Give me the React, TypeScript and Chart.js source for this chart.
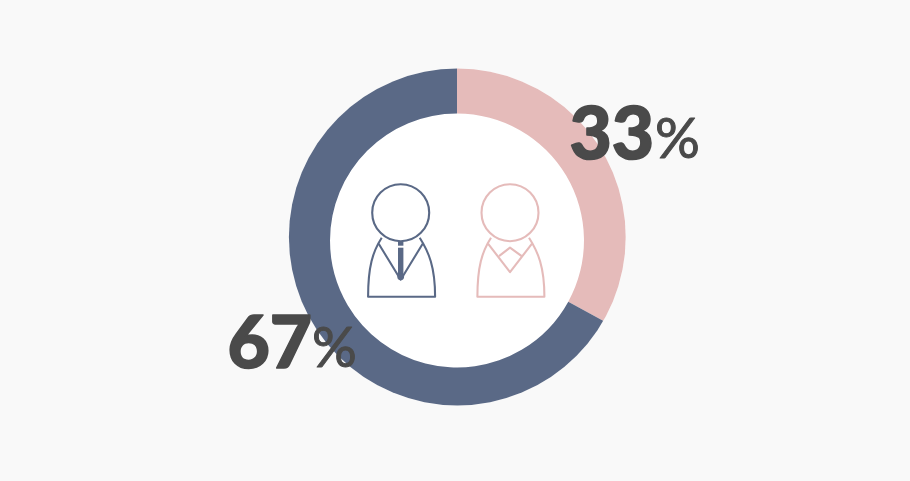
import React, { useEffect, useRef } from "react";
import { Chart, registerables } from "chart.js";

Chart.register(...registerables);

const categories = ["Women", "Men"];
const shares = [33, 67];
const sliceColors = ["#e5bbba", "#5a6986"];
const percentSign = "%";

const BG = "#f9f9f9";
const TEXT = "#4a4a4a";
const FONT = "Lato";

function drawPerson(ctx: CanvasRenderingContext2D, x: number, color: string, kind: "tie" | "collar") {
  const y = 212.7;
  ctx.save();
  ctx.strokeStyle = color;
  ctx.fillStyle = color;
  ctx.lineWidth = 2.1;
  ctx.lineJoin = "round";
  ctx.beginPath();
  ctx.arc(x, y, 28.5, 0, Math.PI * 2);
  ctx.stroke();
  ctx.beginPath();
  ctx.moveTo(x - 19, y + 25);
  ctx.bezierCurveTo(x - 28, y + 39, x - 32.6, y + 54, x - 32.6, y + 84);
  ctx.lineTo(x + 34.4, y + 84);
  ctx.bezierCurveTo(x + 34.4, y + 54, x + 28, y + 39, x + 19, y + 25);
  ctx.stroke();
  ctx.beginPath();
  ctx.moveTo(x - 22, y + 31);
  ctx.lineTo(x, y + (kind === "tie" ? 67 : 59.5));
  ctx.lineTo(x + 22, y + 31);
  ctx.stroke();
  if (kind === "tie") {
    ctx.fillRect(x - 2.7, y + 29, 5.4, 4);
    ctx.fillRect(x - 2.7, y + 35, 5.4, 29);
    ctx.beginPath();
    ctx.arc(x, y + 64, 3.4, 0, Math.PI * 2);
    ctx.fill();
  } else {
    ctx.beginPath();
    ctx.moveTo(x - 11, y + 43.5);
    ctx.lineTo(x, y + 35);
    ctx.lineTo(x + 11.7, y + 43.5);
    ctx.stroke();
  }
  ctx.restore();
}

function drawLabel(ctx: CanvasRenderingContext2D, value: number, x: number, pctX: number, y: number) {
  ctx.save();
  ctx.fillStyle = TEXT;
  ctx.strokeStyle = TEXT;
  ctx.lineJoin = "round";
  ctx.textAlign = "left";
  ctx.textBaseline = "alphabetic";
  ctx.font = `900 73px ${FONT}`;
  ctx.lineWidth = 1.6;
  ctx.fillText(String(value), x, y);
  ctx.strokeText(String(value), x, y);
  ctx.font = `400 56px ${FONT}`;
  ctx.lineWidth = 1;
  ctx.fillText(percentSign, pctX, y - 1);
  ctx.strokeText(percentSign, pctX, y - 1);
  ctx.restore();
}

const decorations = {
  id: "decorations",
  beforeDatasetsDraw(chart: any) {
    const ctx = chart.ctx;
    ctx.save();
    ctx.beginPath();
    ctx.arc(457.3, 237, 168.4, 0, Math.PI * 2);
    ctx.fillStyle = "#ffffff";
    ctx.fill();
    ctx.clip();
  },
  afterDatasetsDraw(chart: any) {
    const ctx = chart.ctx;
    ctx.restore();
    drawPerson(ctx, 400.7, sliceColors[1], "tie");
    drawPerson(ctx, 510, sliceColors[0], "collar");
    drawLabel(ctx, shares[0], 569.5, 655, 159);
    drawLabel(ctx, shares[1], 227.5, 312, 368);
  },
};

export default function App() {
  const ref = useRef<HTMLCanvasElement | null>(null);
  useEffect(() => {
    if (!ref.current) return;
    const chart = new Chart(ref.current, {
      type: "doughnut",
      data: {
        labels: categories,
        datasets: [{ data: shares, backgroundColor: sliceColors, borderWidth: 0, hoverOffset: 0 }],
      },
      options: {
        animation: false,
        responsive: false,
        cutout: "73.4%",
        layout: { padding: { left: 284, right: 280, top: 67.5, bottom: 67.5 } },
        plugins: { legend: { display: false }, tooltip: { enabled: false }, title: { display: false } },
      },
      plugins: [decorations],
    } as any);
    return () => chart.destroy();
  }, []);
  return (
    <div style={{ position: "fixed", left: 0, top: 0, width: 910, height: 481, background: BG }}>
      <canvas ref={ref} width={910} height={481} style={{ display: "block", width: 910, height: 481 }} />
    </div>
  );
}
